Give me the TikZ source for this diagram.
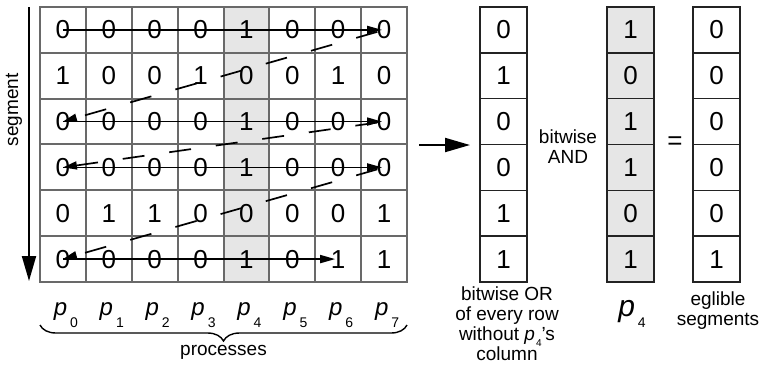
\documentclass[tikz,border=0pt]{standalone}
\usepackage{fontspec}
\setmainfont{Liberation Sans}
\usetikzlibrary{arrows.meta,decorations.pathreplacing}
\definecolor{gridc}{RGB}{105,105,105}
\definecolor{shadegray}{RGB}{230,230,230}
\definecolor{boxc}{RGB}{35,35,35}
\begin{document}
\begin{tikzpicture}[x=1pt,y=-1pt,
 cell/.style={draw=gridc, line width=2pt, minimum width=45.875pt, minimum height=45.83pt, inner sep=0pt, font=\fontsize{26}{26}\selectfont},
 vcell/.style={draw=boxc, line width=1.5pt, minimum width=47pt, minimum height=45.83pt, inner sep=0pt, font=\fontsize{26}{26}\selectfont},
 rowarrow/.style={line width=1.7pt, -{Triangle[length=15pt,width=8pt]}},
 backarrow/.style={line width=1.7pt, dash pattern=on 22pt off 25pt, dash phase=40pt, -{Triangle[length=14pt,width=8pt]}},
 lbl/.style={font=\fontsize{19}{20}\selectfont, align=center, inner sep=0pt},
 bigarrow/.style={line width=2pt, -{Triangle[length=25pt,width=14pt]}}
]
\useasboundingbox (0,0) rectangle (762,376);
% shaded column of p4
\fill[shadegray] (223.5,7) rectangle (269.4,282);
% grid cells
\foreach \row [count=\r from 0] in {{0,0,0,0,1,0,0,0},{1,0,0,1,0,0,1,0},{0,0,0,0,1,0,0,0},{0,0,0,0,1,0,0,0},{0,1,1,0,0,0,0,1},{0,0,0,0,1,0,1,1}}{
  \foreach \v [count=\c from 0] in \row {
    \node[cell] (c-\r-\c) at ({40+(\c+0.5)*45.875},{7+(\r+0.5)*45.83}) {\v};
  }
}
% zig-zag scan arrows
\draw[rowarrow] (c-0-0.center) -- ([xshift=-2pt]c-0-7.center);
\draw[backarrow] (c-0-7.center) -- (c-2-0.center);
\draw[rowarrow] (c-2-0.center) -- ([xshift=-2pt]c-2-7.center);
\draw[backarrow] (c-2-7.center) -- (c-3-0.center);
\draw[rowarrow] (c-3-0.center) -- ([xshift=-2pt]c-3-7.center);
\draw[backarrow] (c-3-7.center) -- (c-5-0.center);
\draw[rowarrow] (c-5-0.center) -- ([xshift=-3pt]c-5-6.center);
% process labels
\foreach \c in {0,...,7}{
  \node[anchor=base, inner sep=0pt] (p-\c) at ({40+(\c+0.5)*45.875+3},315) {\fontsize{24}{24}\selectfont\itshape p\kern3pt\raisebox{-12pt}{\upshape\fontsize{14}{14}\selectfont\c}};
}
\coordinate (bl) at (40,325);
\coordinate (br) at (407,325);
\draw[line width=1.4pt, decorate, decoration={brace,mirror,amplitude=16pt}] (bl) -- (br);
\node[lbl] (proc) at (223.5,352) {processes};
% segment axis
\coordinate (s1) at (29,7);
\coordinate (s2) at (29,281);
\draw[bigarrow] (s1) -- (s2);
\node[lbl, rotate=90] (seg) at (14,110) {segment};
% transfer arrow
\coordinate (a1) at (419,145);
\coordinate (a2) at (470,145);
\draw[bigarrow] (a1) -- (a2);
% columns
\foreach \v [count=\r from 0] in {0,1,0,0,1,1}{
  \node[vcell] (o-\r) at (503.5,{7+(\r+0.5)*45.83}) {\v};
}
\foreach \v [count=\r from 0] in {1,0,1,1,0,1}{
  \node[vcell, fill=shadegray] (q-\r) at (630.5,{7+(\r+0.5)*45.83}) {\v};
}
\foreach \v [count=\r from 0] in {0,0,0,0,0,1}{
  \node[vcell] (e-\r) at (716.5,{7+(\r+0.5)*45.83}) {\v};
}
\node[lbl] (and) at (568,147) {bitwise\\AND};
\node[inner sep=0pt, font=\fontsize{26}{26}\selectfont] (eq) at (675,143) {=};
\node[lbl, anchor=north] (orl) at (507,287) {bitwise OR\\of every row\\without {\itshape p}\kern1pt\raisebox{-6pt}{\fontsize{10}{10}\selectfont 4}'s\\column};
\node[anchor=base, inner sep=0pt] (p4l) at (632,316) {\fontsize{30}{30}\selectfont\itshape p\kern3pt\raisebox{-11pt}{\upshape\fontsize{14}{14}\selectfont 4}};
\node[lbl] (egl) at (718,311) {eglible\\segments};
\end{tikzpicture}
\end{document}
